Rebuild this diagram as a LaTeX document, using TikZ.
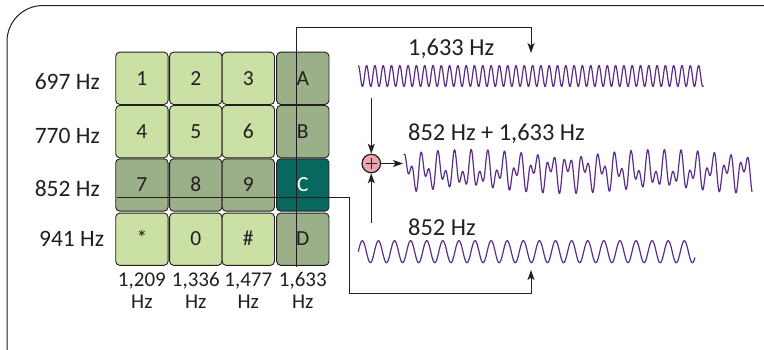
\documentclass[tikz,border=0pt]{standalone}
\usepackage{fontspec}
\setmainfont{Carlito}
\usetikzlibrary{arrows.meta}
\definecolor{keylight}{HTML}{CBE0A4}
\definecolor{keydim}{HTML}{9BAF88}
\definecolor{keysel}{HTML}{07685F}
\definecolor{pinkc}{HTML}{ECA6AE}
\definecolor{wavec}{HTML}{5A2D88}
\definecolor{inkc}{HTML}{231F20}
\begin{document}
\begin{tikzpicture}[x=1pt,y=-1pt,
  keybox/.style={draw=inkc, line width=0.9pt, rounded corners=4pt,
    minimum width=52.3pt, minimum height=52.3pt, inner sep=0pt,
    font=\fontsize{21.5}{24}\selectfont, text height=13.5pt, text depth=0pt, text=inkc},
  lit/.style={keybox, fill=keylight},
  dim/.style={keybox, fill=keydim},
  sel/.style={keybox, fill=keysel, text=white},
  lab/.style={inner sep=0pt, text=inkc, font=\fontsize{23.5}{26}\selectfont},
  rlab/.style={inner sep=0pt, text=inkc, font=\fontsize{24.4}{26}\selectfont},
  blab/.style={inner sep=0pt, text=inkc, font=\fontsize{21}{24}\selectfont, anchor=base},
  conn/.style={draw=inkc, line width=1pt},
  tip/.style={-{Stealth[length=10pt,width=7pt,inset=2.5pt]}},
  wave/.style={draw=wavec, line width=1.2pt, line join=round}
]
\useasboundingbox (0,0) rectangle (764,349);
\fill[white] (0,0) rectangle (764,349);
% frame
\draw[inkc, line width=1pt, rounded corners=36pt] (7,352) -- (7,5.5) -- (768,5.5);

% keys
\node[lit] (k1) at (141.9,78.3) {1};
\node[lit] (k2) at (195.8,78.3) {2};
\node[lit] (k3) at (248.3,78.3) {3};
\node[dim] (kA) at (302.8,78.3) {A};
\node[lit] (k4) at (141.9,131.6) {4};
\node[lit] (k5) at (195.8,131.6) {5};
\node[lit] (k6) at (248.3,131.6) {6};
\node[dim] (kB) at (302.8,131.6) {B};
\node[dim] (k7) at (141.9,185) {7};
\node[dim] (k8) at (195.8,185) {8};
\node[dim] (k9) at (248.3,185) {9};
\node[sel] (kC) at (302.8,185) {C};
\node[lit] (ks) at (141.9,239.2) {*};
\node[lit] (k0) at (195.8,239.2) {0};
\node[lit] (kh) at (248.3,239.2) {\#};
\node[dim] (kD) at (302.8,239.2) {D};

% row labels
\node[lab, anchor=base east] (r697) at (100,89.3) {697 Hz};
\node[lab, anchor=base east] (r770) at (100,143.3) {770 Hz};
\node[lab, anchor=base east] (r852) at (100,196.5) {852 Hz};
\node[lab, anchor=base east] (r941) at (104.3,246.7) {941 Hz};

% column labels
\node[blab] (c1209) at (141.9,286.7) {1,209};
\node[blab] (c1336) at (195.8,286.7) {1,336};
\node[blab] (c1477) at (248.3,286.7) {1,477};
\node[blab] (c1633) at (302.8,286.7) {1,633};
\node[blab] (h1) at (141.9,308) {Hz};
\node[blab] (h2) at (195.8,308) {Hz};
\node[blab] (h3) at (248.3,308) {Hz};
\node[blab] (h4) at (302.8,308) {Hz};

% connectors
\coordinate (vb) at (296,267);
\coordinate (vt) at (296,27);
\coordinate (t1) at (531,53);
\draw[conn, tip] (vb) -- (vt) -| (t1);
\coordinate (hl) at (117,197);
\coordinate (hr) at (349,197);
\coordinate (b1) at (531,270);
\draw[conn, tip] (hl) -- (hr) -- ++(0,96) -| (b1);

% adder
\node[circle, draw=inkc, line width=1.2pt, fill=pinkc, minimum size=18.5pt, inner sep=0pt] (plus) at (371.3,163.5) {};
\draw[inkc, line width=1.2pt] ([xshift=-5.5pt]plus.center) -- ([xshift=5.5pt]plus.center);
\draw[inkc, line width=1.2pt] ([yshift=-5.5pt]plus.center) -- ([yshift=5.5pt]plus.center);
\coordinate (pa) at (371.3,98);
\coordinate (pb) at (371.3,223);
\coordinate (pr) at (403,163.5);
\draw[conn, tip] (pa) -- (plus.north);
\draw[conn, tip] (pb) -- (plus.south);
\draw[conn, tip] (plus.east) -- (pr);

% wave labels
\node[rlab, anchor=base west] (w1633) at (408,55) {1,633 Hz};
\node[rlab, anchor=base west] (wsum) at (408,140) {852 Hz + 1,633 Hz};
\node[rlab, anchor=base west] (w852) at (408,235) {852 Hz};

% waves
\draw[wave] plot[domain=358.3:703.3, samples=900] (\x, {76 - 10.5*cos((\x-358.3)*43.373)});
\draw[wave] plot[domain=358.3:695, samples=600] (\x, {251.7 - 11*sin((\x-358.3)*22.360)});
\draw[wave] plot[domain=404:752, samples=1000] (\x, {171.5 - 11*sin((\x-404)*22.360+30) - 11*cos((\x-404)*42.857)});
\end{tikzpicture}
\end{document}
